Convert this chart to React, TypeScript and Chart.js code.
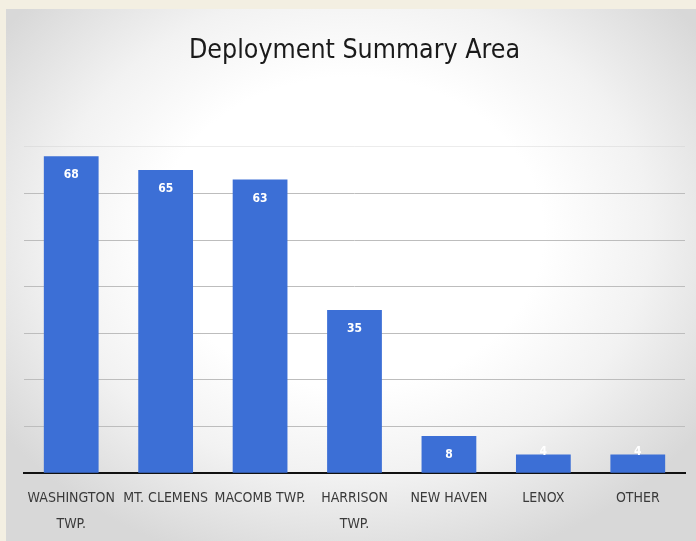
import React, { useEffect, useRef } from "react";
import { Chart, registerables } from "chart.js";

Chart.register(...registerables);

const titleText = "Deployment Summary Area";
const categories: (string | string[])[] = [
  ["WASHINGTON", "TWP."],
  "MT. CLEMENS",
  "MACOMB TWP.",
  ["HARRISON", "TWP."],
  "NEW HAVEN",
  "LENOX",
  "OTHER",
];
const values = [68, 65, 63, 35, 8, 4, 4];
const yMax = 70;
const yStep = 10;

const FONT = "'DejaVu Sans Condensed', 'DejaVu Sans', sans-serif";

const barLabels = {
  id: "barLabels",
  afterDatasetsDraw(chart: any) {
    const ctx = chart.ctx;
    const meta = chart.getDatasetMeta(0);
    ctx.save();
    ctx.fillStyle = "#ffffff";
    ctx.font = `bold 12px ${FONT}`;
    ctx.textAlign = "center";
    ctx.textBaseline = "middle";
    meta.data.forEach((el: any, i: number) => {
      const h = el.base - el.y;
      const y = h > 30 ? el.y + 19 : el.y - 3;
      ctx.fillText(String(values[i]), el.x, y);
    });
    ctx.restore();
  },
};

export default function App() {
  const ref = useRef<HTMLCanvasElement | null>(null);
  useEffect(() => {
    if (!ref.current) return;
    const chart = new Chart(ref.current, {
      type: "bar",
      data: {
        labels: categories,
        datasets: [
          {
            data: values,
            backgroundColor: "#3c6fd6",
            barPercentage: 0.58,
            categoryPercentage: 1,
          },
        ],
      },
      options: {
        animation: false,
        responsive: false,
        maintainAspectRatio: false,
        layout: { padding: { left: 24, right: 11, top: 0, bottom: -8 } },
        plugins: {
          legend: { display: false },
          tooltip: { enabled: false },
          title: {
            display: true,
            text: titleText,
            color: "#1a1a1a",
            font: { family: FONT, size: 26.5, weight: "normal" },
            padding: { top: 35, bottom: 80 },
          },
        },
        scales: {
          x: {
            grid: { display: false, drawTicks: false },
            border: { display: true, color: "#111111", width: 2 },
            ticks: {
              color: "#3a3a3a",
              font: { family: FONT, size: 14, lineHeight: 1.85 },
              padding: 12,
              maxRotation: 0,
              autoSkip: false,
            },
          },
          y: {
            min: 0,
            max: yMax,
            ticks: { display: false, stepSize: yStep },
            border: { display: false },
            grid: {
              drawTicks: false,
              color: (c: any) =>
                c.tick && c.tick.value === yMax ? "rgba(200,200,200,0.35)" : "#bdbdbd",
              lineWidth: 1,
            },
          },
        },
      },
      plugins: [barLabels],
    });
    return () => chart.destroy();
  }, []);

  return (
    <div
      style={{
        position: "fixed",
        left: 0,
        top: 0,
        width: 696,
        height: 541,
        background: "#f3efe2",
        overflow: "hidden",
      }}
    >
      <div
        style={{
          position: "absolute",
          left: 6,
          top: 9,
          width: 690,
          height: 532,
          background:
            "radial-gradient(ellipse 62% 65% at 50% 42%, #ffffff 45%, #f2f2f2 70%, #d8d8d8 100%)",
        }}
      />
      <canvas
        ref={ref}
        width={696}
        height={541}
        style={{ position: "absolute", left: 0, top: 0, width: 696, height: 541 }}
      />
    </div>
  );
}
